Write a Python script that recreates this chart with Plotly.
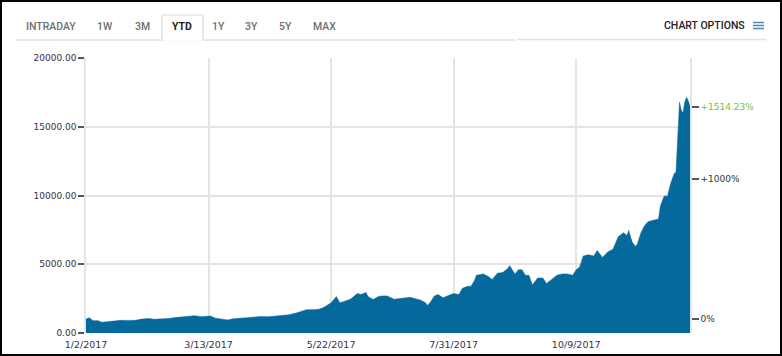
import plotly.graph_objects as go

# ---------------- data ----------------
dates = [
    "2017-01-02", "2017-01-04", "2017-01-06", "2017-01-09", "2017-01-11", "2017-01-14",
    "2017-01-18", "2017-01-22", "2017-01-26", "2017-01-30", "2017-02-03", "2017-02-07",
    "2017-02-10", "2017-02-14", "2017-02-18", "2017-02-22", "2017-02-26", "2017-03-02",
    "2017-03-05", "2017-03-09", "2017-03-11", "2017-03-14", "2017-03-17", "2017-03-20",
    "2017-03-24", "2017-03-27", "2017-03-31", "2017-04-04", "2017-04-08", "2017-04-12",
    "2017-04-16", "2017-04-20", "2017-04-24", "2017-04-28", "2017-05-02", "2017-05-05",
    "2017-05-08", "2017-05-12", "2017-05-15", "2017-05-18", "2017-05-20", "2017-05-22",
    "2017-05-25", "2017-05-27", "2017-05-29", "2017-06-02", "2017-06-06", "2017-06-08",
    "2017-06-11", "2017-06-12", "2017-06-15", "2017-06-18", "2017-06-20", "2017-06-23",
    "2017-06-27", "2017-06-30", "2017-07-03", "2017-07-06", "2017-07-09", "2017-07-12",
    "2017-07-15", "2017-07-16", "2017-07-18", "2017-07-20", "2017-07-22", "2017-07-25",
    "2017-07-27", "2017-07-31", "2017-08-03", "2017-08-05", "2017-08-08", "2017-08-10",
    "2017-08-12", "2017-08-13", "2017-08-17", "2017-08-20", "2017-08-22", "2017-08-25",
    "2017-08-28", "2017-08-31", "2017-09-01", "2017-09-04", "2017-09-06", "2017-09-08",
    "2017-09-10", "2017-09-12", "2017-09-14", "2017-09-15", "2017-09-17", "2017-09-20",
    "2017-09-22", "2017-09-25", "2017-09-28", "2017-10-01", "2017-10-04", "2017-10-07",
    "2017-10-09", "2017-10-11", "2017-10-13", "2017-10-16", "2017-10-19", "2017-10-21",
    "2017-10-24", "2017-10-27", "2017-10-30", "2017-11-02", "2017-11-05", "2017-11-07",
    "2017-11-08", "2017-11-10", "2017-11-12", "2017-11-13", "2017-11-15", "2017-11-17",
    "2017-11-19", "2017-11-22", "2017-11-25", "2017-11-26", "2017-11-28", "2017-11-29",
    "2017-11-30", "2017-12-02", "2017-12-04", "2017-12-05", "2017-12-06", "2017-12-07",
    "2017-12-08", "2017-12-09", "2017-12-10", "2017-12-11", "2017-12-12", "2017-12-13",
]
prices = [
    1020, 1110, 900, 900, 780, 820,
    870, 920, 915, 920, 1010, 1060,
    1000, 1000, 1050, 1120, 1170, 1230,
    1260, 1190, 1230, 1240, 1080, 1040,
    950, 1030, 1070, 1140, 1190, 1200,
    1180, 1230, 1250, 1330, 1450, 1550,
    1700, 1700, 1730, 1870, 2040, 2200,
    2650, 2200, 2280, 2450, 2880, 2800,
    2950, 2650, 2440, 2650, 2700, 2700,
    2450, 2500, 2600, 2600, 2500, 2400,
    2200, 2000, 2300, 2700, 2800, 2560,
    2680, 2870, 2800, 3250, 3400, 3400,
    3850, 4200, 4300, 4100, 3900, 4350,
    4400, 4700, 4900, 4300, 4600, 4600,
    4200, 4200, 3500, 3700, 4000, 4000,
    3600, 3900, 4200, 4300, 4300, 4200,
    4600, 4800, 5600, 5700, 5600, 6000,
    5500, 5900, 6100, 7000, 7300, 7100,
    7450, 6600, 6300, 6500, 7300, 7800,
    8100, 8200, 8300, 9200, 9900, 10000,
    9900, 10900, 11600, 11700, 13800, 16800,
    16200, 16000, 16800, 17150, 16900, 16465,
]
y_ticks = [0, 5000, 10000, 15000, 20000]
y_grid = [5000, 10000, 15000]
x_ticks = ["2017-01-02", "2017-03-13", "2017-05-22", "2017-07-31", "2017-10-09"]
pct_ticks = [0, 1000, 1514.23]
pct_labels = ["0%", "+1000%", '<span style="color:#78c142">+1514.23%</span>']
tabs = ["INTRADAY", "1W", "3M", "YTD", "1Y", "3Y", "5Y", "MAX"]
tab_centers_px = [50.5, 105, 142, 181.5, 218, 251.5, 285, 324]

# ---------------- geometry helpers ----------------
W, H = 782, 356
L, R, T, B = 86, 92, 58, 23
PW, PH = W - L - R, H - T - B


def px(x):
    return (x - L) / PW


def py(y):
    return (H - B - y) / PH


base = prices[0]
pct_vals = [base * (1 + p / 100.0) for p in pct_ticks]

fig = go.Figure()
fig.add_trace(go.Scatter(
    x=dates, y=prices, mode="lines", fill="tozeroy",
    fillcolor="#05699c", line=dict(color="#05699c", width=0.5),
    hoverinfo="skip", showlegend=False,
))
fig.add_trace(go.Scatter(x=[dates[0]], y=[prices[0]], yaxis="y2", mode="markers",
                         marker=dict(opacity=0), hoverinfo="skip", showlegend=False))
fig.add_trace(go.Scatter(x=[dates[0]], y=[prices[0]], yaxis="y3", mode="markers",
                         marker=dict(opacity=0), hoverinfo="skip", showlegend=False))

tickfont = dict(family="DejaVu Sans", size=9, color="#333344")

fig.update_layout(
    width=W, height=H,
    margin=dict(l=L, r=R, t=T, b=B, pad=0, autoexpand=False),
    paper_bgcolor="white", plot_bgcolor="white",
    xaxis=dict(
        range=[dates[0], dates[-1]], tickvals=x_ticks, tickformat="%-m/%-d/%Y",
        showgrid=True, gridcolor="#e4e4e4", gridwidth=1.5, zeroline=False,
        showline=False, ticks="", ticklabelstandoff=4, automargin=False,
        tickfont=dict(family="DejaVu Sans", size=9.5, color="#333344"),
        fixedrange=True,
    ),
    yaxis=dict(
        range=[0, 20000], tickvals=y_ticks, tickformat=".2f", automargin=False,
        showgrid=False, zeroline=False, showline=True, linecolor="#e4e4e4", linewidth=1.5,
        ticks="outside", ticklen=6, tickwidth=2, tickcolor="#555555",
        tickfont=tickfont, fixedrange=True,
    ),
    yaxis2=dict(
        range=[0, 20000], overlaying="y", side="right", automargin=False,
        tickvals=pct_vals, ticktext=pct_labels,
        showgrid=False, zeroline=False, showline=True, linecolor="#e4e4e4", linewidth=1.5,
        ticks="outside", ticklen=7, tickwidth=2, tickcolor="#555555",
        tickfont=tickfont, fixedrange=True,
    ),
    yaxis3=dict(
        range=[0, 20000], overlaying="y", side="left", tickvals=y_grid, automargin=False,
        showticklabels=False, showgrid=True, gridcolor="#e4e4e4", gridwidth=1.5,
        zeroline=False, showline=False, ticks="", fixedrange=True,
    ),
)

shapes = []
# outer black frame
shapes.append(dict(type="rect", xref="paper", yref="paper",
                   x0=px(1), x1=px(781), y0=py(355), y1=py(1),
                   line=dict(color="black", width=2), fillcolor="rgba(0,0,0,0)"))
# tab underline (left part) and right underline
shapes.append(dict(type="line", xref="paper", yref="paper",
                   x0=px(15), x1=px(515), y0=py(40), y1=py(40),
                   line=dict(color="#e2e2e2", width=1.5)))
shapes.append(dict(type="line", xref="paper", yref="paper",
                   x0=px(517), x1=px(767), y0=py(39.5), y1=py(39.5),
                   line=dict(color="#e2e2e2", width=1.5)))
# selected tab box (white bottom)
shapes.append(dict(type="rect", xref="paper", yref="paper",
                   x0=px(162), x1=px(203), y0=py(40.8), y1=py(15),
                   line=dict(width=0), fillcolor="white"))
shapes.append(dict(type="path", xref="paper", yref="paper",
                   path=f"M {px(162)} {py(40.5)} L {px(162)} {py(15)} L {px(203)} {py(15)} L {px(203)} {py(40.5)}",
                   line=dict(color="#dcdcdc", width=1.2)))
# hamburger icon
for yy in (22.5, 25.5, 28.5):
    shapes.append(dict(type="line", xref="paper", yref="paper",
                       x0=px(753), x1=px(764), y0=py(yy), y1=py(yy),
                       line=dict(color="#4f86b8", width=1.5)))

annotations = []
for name, cx in zip(tabs, tab_centers_px):
    sel = name == "YTD"
    annotations.append(dict(
        text=name, xref="paper", yref="paper", x=px(cx), y=py(27),
        xanchor="center", yanchor="middle", showarrow=False,
        font=dict(family="Roboto", size=10.5, color="#222222" if sel else "#707070",
                  weight=700 if sel else 500),
    ))
annotations.append(dict(
    text="CHART OPTIONS", xref="paper", yref="paper", x=px(747), y=py(25.5),
    xanchor="right", yanchor="middle", showarrow=False,
    font=dict(family="Roboto", size=10.5, color="#222222", weight=500),
))
fig.update_layout(shapes=shapes, annotations=annotations)

fig.write_html("out.html")
